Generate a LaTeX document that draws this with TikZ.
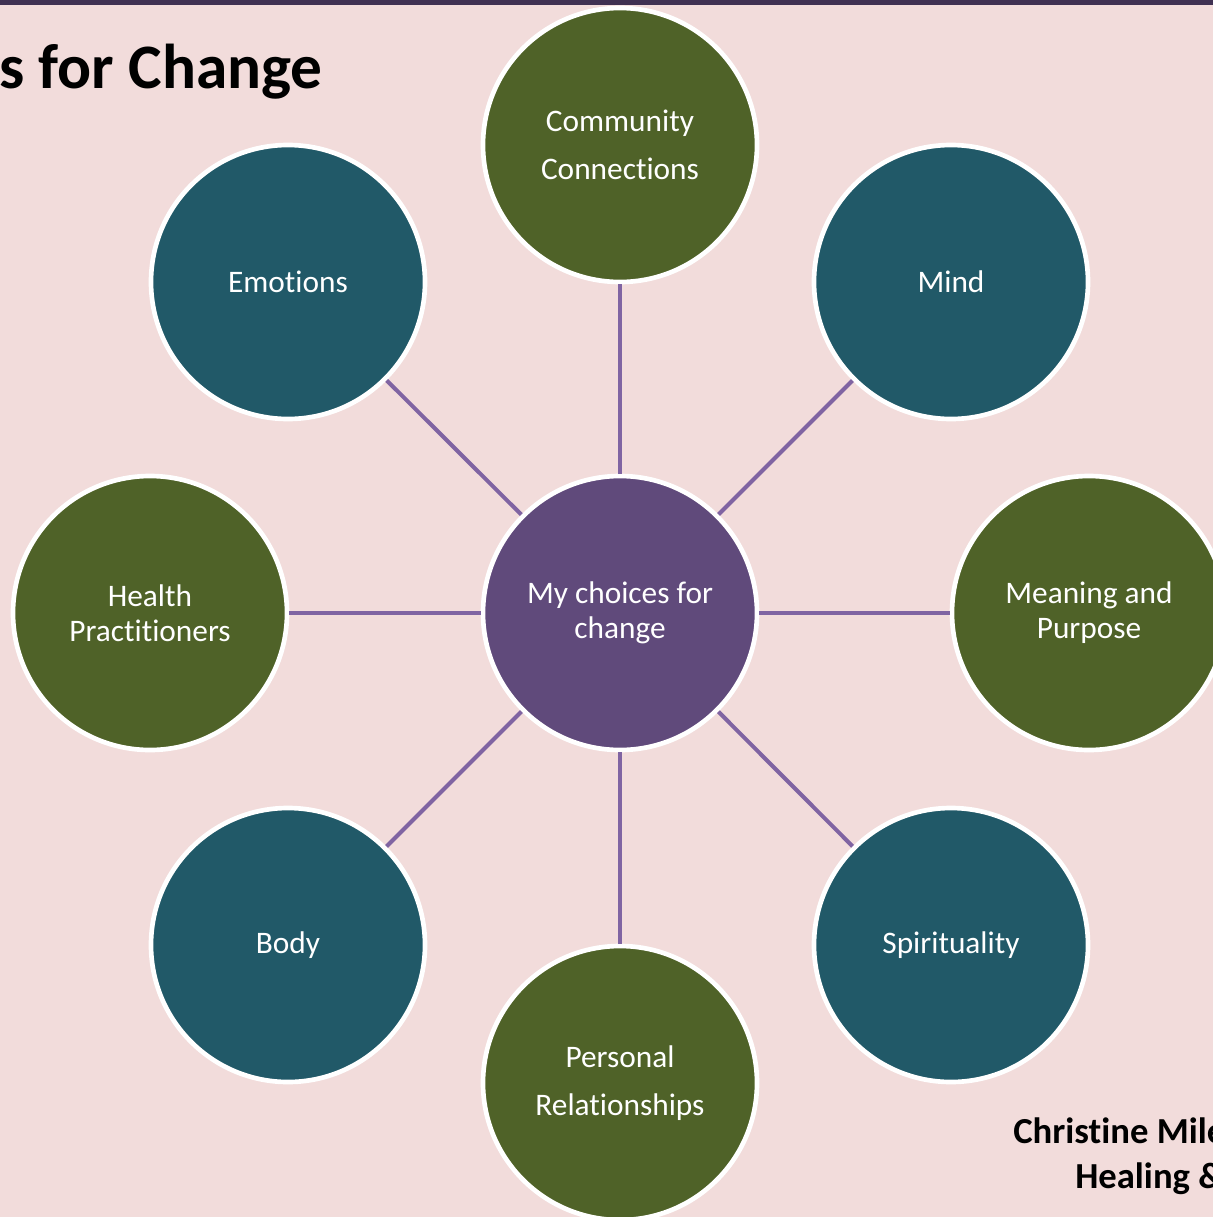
\documentclass[tikz,border=0pt]{standalone}
\usepackage{fontspec}
\setmainfont{Carlito}[Ligatures=NoCommon]
\definecolor{bgpink}{HTML}{F2DCDB}
\definecolor{barpurple}{HTML}{403152}
\definecolor{olive}{HTML}{4F6228}
\definecolor{teal}{HTML}{215968}
\definecolor{centerpurple}{HTML}{604A7B}
\definecolor{linkpurple}{HTML}{8064A2}
\begin{document}
\begin{tikzpicture}[x=0.75pt,y=-0.75pt,
  bubble/.style={circle,draw=white,line width=3.5pt,minimum size=205.5pt,inner sep=0pt,
    text=white,align=center,font=\fontsize{23.5}{26.25}\selectfont},
  greenbubble/.style={bubble,fill=olive},
  bluebubble/.style={bubble,fill=teal},
  hubbubble/.style={bubble,fill=centerpurple},
  link/.style={draw=linkpurple,line width=3pt},
  boldtext/.style={font=\bfseries, text=black, inner sep=0pt}]
\useasboundingbox (0,0) rectangle (1213,1217);
\clip (0,0) rectangle (1213,1217);
\fill[bgpink] (0,0) rectangle (1213,1217);
\fill[barpurple] (0,0) rectangle (1213,5);

\node[boldtext,anchor=base east,font=\fontsize{47.5}{50}\selectfont\bfseries] (title) at (323,88) {s for Change};
\node[boldtext,anchor=base west,font=\fontsize{27.5}{30}\selectfont\bfseries] (author1) at (1013,1143) {Christine Mile};
\node[boldtext,anchor=base west,font=\fontsize{27.5}{30}\selectfont\bfseries] (author2) at (1075,1188) {Healing \&};

\node[hubbubble] (hub) at (620,613) {\raisebox{-2pt}{\parbox{150pt}{\centering My choices for\\change}}};
\node[greenbubble,font=\fontsize{23.5}{36}\selectfont] (community) at (620,145) {Community\\Connections};
\node[bluebubble] (emotions) at (288,282) {Emotions};
\node[bluebubble] (mind) at (951,282) {Mind};
\node[greenbubble] (health) at (150,613) {Health\\Practitioners};
\node[greenbubble] (meaning) at (1089,613) {\raisebox{-2pt}{\parbox{150pt}{\centering Meaning and\\Purpose}}};
\node[bluebubble] (body) at (288,945) {Body};
\node[bluebubble] (spirit) at (951,945) {Spirituality};
\node[greenbubble,font=\fontsize{23.5}{36}\selectfont] (personal) at (620,1083) {Personal\\Relationships};

\foreach \n in {community,emotions,mind,health,meaning,body,spirit,personal}
  \draw[link] (hub) -- (\n);
\end{tikzpicture}
\end{document}
